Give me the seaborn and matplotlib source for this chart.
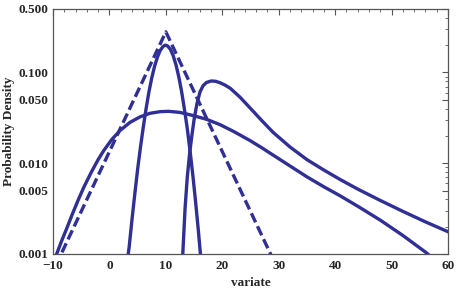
import matplotlib
matplotlib.use("Agg")
import matplotlib.pyplot as plt
import matplotlib.ticker as mticker
import seaborn as sns

# Laplace-like (dashed) curve
lap_x = [-9.5, 10.0, 29.5]
lap_y = [0.00075, 0.28, 0.00075]

# Narrow peaked curve
nar_x = [3.0, 3.5, 4.0, 4.5, 5.0, 5.5, 6.0, 6.5, 7.0, 7.5, 8.0, 8.5, 9.0, 9.5, 9.9,
         10.3, 10.8, 11.3, 11.8, 12.3, 12.8, 13.3, 13.8, 14.3, 14.8, 15.3, 15.8, 16.3, 16.7]
nar_y = [0.0007, 0.0012, 0.0024, 0.0046, 0.0086, 0.0150, 0.0250, 0.040, 0.061, 0.087, 0.117,
         0.147, 0.175, 0.193, 0.200, 0.196, 0.180, 0.153, 0.121, 0.089, 0.061, 0.039, 0.024,
         0.0135, 0.0072, 0.0036, 0.0017, 0.00075, 0.0004]

# Wide curve
wide_x = [-9.7, -9.35, -8.5, -7.57, -6.5, -5.5, -4.5, -3.14, -2.0, -1.0, 0.4, 1.87, 3.65,
          5.42, 7.2, 9.0, 10.5, 12.5, 14.5, 17.2, 19.6, 22.0, 24.9, 27.0, 29.0, 32.0, 35.0,
          38.0, 40.9, 44.0, 48.0, 52.0, 56.0, 57.0]
wide_y = [0.00089, 0.00100, 0.00138, 0.00191, 0.00282, 0.00398, 0.00550, 0.00813, 0.01096,
          0.01380, 0.01820, 0.02290, 0.02820, 0.03240, 0.03550, 0.03700, 0.03730, 0.03630,
          0.03390, 0.03050, 0.02660, 0.02240, 0.01780, 0.01480, 0.01230, 0.00933, 0.00708,
          0.00550, 0.00437, 0.00336, 0.00236, 0.00160, 0.00105, 0.00093]

# Skewed curve
skw_x = [12.9, 13.0, 13.4, 13.8, 14.2, 14.6, 15.0, 15.5, 16.05, 16.6, 17.2, 18.0, 18.8,
         19.6, 20.5, 21.4, 22.3, 23.1, 24.3, 25.5, 27.0, 29.0, 32.0, 35.0, 38.0, 40.9,
         44.0, 48.0, 52.0, 56.0, 60.0, 61.0]
skw_y = [0.00079, 0.00100, 0.00316, 0.00708, 0.01260, 0.02000, 0.03020, 0.04500, 0.06100,
         0.07150, 0.07750, 0.08050, 0.08000, 0.07700, 0.07250, 0.06700, 0.05960, 0.05370,
         0.04470, 0.03720, 0.02950, 0.02190, 0.01510, 0.01096, 0.00841, 0.00661, 0.00519,
         0.00389, 0.00295, 0.00226, 0.00176, 0.00166]

x_ticks = [-10, 0, 10, 20, 30, 40, 50, 60]
x_tick_labels = ["\u221210", "0", "10", "20", "30", "40", "50", "60"]
y_ticks = [0.001, 0.005, 0.010, 0.050, 0.100, 0.500]
y_tick_labels = ["0.001", "0.005", "0.010", "0.050", "0.100", "0.500"]

sns.set_style("white")
plt.rcParams["font.family"] = ["Liberation Serif", "DejaVu Serif"]
plt.rcParams["font.weight"] = "bold"

color = "#2f2f95"
fig = plt.figure(figsize=(4.57, 2.88), dpi=100)
ax = fig.add_axes([53 / 457, 1 - 254 / 288, (448 - 53) / 457, (254 - 9) / 288])

lw = 2.4
sns.lineplot(x=lap_x, y=lap_y, ax=ax, color=color, linewidth=lw, sort=False,
             linestyle=(0, (3.0, 1.3)))
sns.lineplot(x=nar_x, y=nar_y, ax=ax, color=color, linewidth=lw, sort=False)
sns.lineplot(x=wide_x, y=wide_y, ax=ax, color=color, linewidth=lw, sort=False)
sns.lineplot(x=skw_x, y=skw_y, ax=ax, color=color, linewidth=lw, sort=False)

ax.set_yscale("log")
ax.set_xlim(-10, 60)
ax.set_ylim(0.001, 0.5)

ax.set_xticks(x_ticks)
ax.set_xticklabels(x_tick_labels, fontsize=9.5, fontweight="bold")
ax.set_yticks(y_ticks)
ax.set_yticklabels(y_tick_labels, fontsize=9.5, fontweight="bold")
ax.xaxis.set_minor_locator(mticker.MultipleLocator(2))
ax.yaxis.set_minor_locator(mticker.LogLocator(base=10, subs=range(1, 10)))
ax.yaxis.set_minor_formatter(mticker.NullFormatter())

ax.tick_params(which="major", direction="in", length=4, width=0.8, color="#555555",
               top=True, right=True)
ax.tick_params(axis="x", which="major", pad=4)
ax.tick_params(axis="y", which="major", pad=3)
ax.tick_params(which="minor", direction="in", length=2, width=0.6, color="#555555",
               top=True, right=True)
for s in ax.spines.values():
    s.set_color("#555555")
    s.set_linewidth(0.9)

ax.set_xlabel("variate", fontsize=9.5, fontweight="bold", labelpad=4)
ax.set_ylabel("Probability Density", fontsize=9.5, fontweight="bold", labelpad=3)

fig.savefig("out.png", dpi=100)
